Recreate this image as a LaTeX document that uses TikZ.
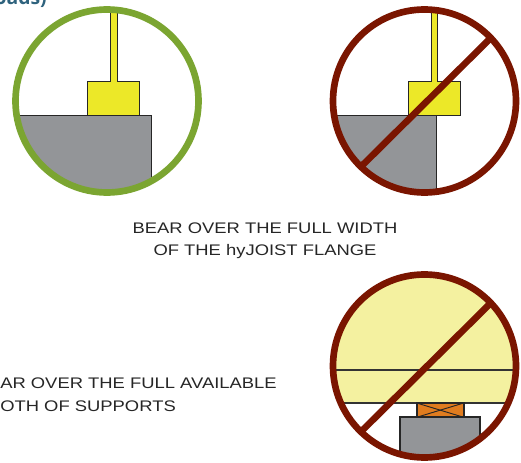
\documentclass[tikz,border=0pt]{standalone}
\usepackage{fontspec}
\usepackage{xcolor}
\usepackage{tikz}
\setmainfont[FakeStretch=1.2]{Liberation Sans}
\newfontfamily\headfont{Open Sans}
\definecolor{ringgreen}{RGB}{123,165,49}
\definecolor{ringred}{RGB}{122,21,0}
\definecolor{joistyellow}{RGB}{236,232,40}
\definecolor{timberpale}{RGB}{244,241,160}
\definecolor{wallgrey}{RGB}{147,149,152}
\definecolor{packerorange}{RGB}{224,124,31}
\definecolor{headteal}{RGB}{46,98,125}

\begin{document}
\begin{tikzpicture}[
  x=0.75pt, y=-0.75pt,
  ring/.style={line width=5pt},
  okring/.style={ring, draw=ringgreen},
  noring/.style={ring, draw=ringred},
  slash/.style={line width=5pt, draw=ringred},
  edge/.style={draw=black!85, line width=0.7pt},
  midedge/.style={draw=black!80, line width=1.1pt},
  thickedge/.style={draw=black!85, line width=1.7pt},
  note/.style={align=center, font=\fontsize{11.5}{16.8}\selectfont, text=black!85, inner sep=0pt}
]
\useasboundingbox (0,0) rectangle (521,463);
\fill[white] (0,0) rectangle (521,463);

%% ---- Good bearing (left) ----
\begin{scope}
  \clip (107,101) circle[radius=91.5];
  \fill[wallgrey] (0,115.3) rectangle (151,200);
  \draw[edge] (0,115.3) -- (151,115.3) -- (151,200);
  \draw[edge, fill=joistyellow] (110,0) -- (110,81.7) -- (87,81.7) -- (87,115.3)
    -- (139.3,115.3) -- (139.3,81.7) -- (117,81.7) -- (117,0) -- cycle;
\end{scope}
\draw[okring] (107,101) circle[radius=91.5];

%% ---- Bad bearing (right) ----
\begin{scope}
  \clip (424.5,101) circle[radius=91.5];
  \fill[wallgrey] (320,115) rectangle (436,200);
  \draw[edge] (320,115) -- (436,115) -- (436,200);
  \draw[edge, fill=joistyellow] (431,0) -- (431,81.3) -- (408,81.3) -- (408,115)
    -- (460.3,115) -- (460.3,81.3) -- (437.7,81.3) -- (437.7,0) -- cycle;
\end{scope}
\coordinate (slashA) at (490.7,38);
\coordinate (slashB) at (362.7,165);
\draw[slash] (slashA) -- (slashB);
\draw[noring] (424.5,101) circle[radius=91.5];

%% ---- Bad support (lower right) ----
\begin{scope}
  \clip (424.5,366) circle[radius=91.5];
  \fill[timberpale] (320,260) rectangle (530,403);
  \draw[midedge] (320,370) -- (530,370);
  \draw[midedge] (320,403) -- (530,403);
  \draw[thickedge, fill=packerorange] (416.7,403) rectangle (463.7,417.3);
  \draw[edge] (416.7,403) -- (463.7,417.3);
  \draw[edge] (416.7,417.3) -- (463.7,403);
  \draw[thickedge, fill=wallgrey] (400,470) -- (400,417.3) -- (480.3,417.3) -- (480.3,470);
\end{scope}
\coordinate (slashC) at (490.7,303);
\coordinate (slashD) at (362.7,430);
\draw[slash] (slashC) -- (slashD);
\draw[noring] (424.5,366) circle[radius=91.5];

%% ---- Labels ----
\node[note] (flangenote) at (265,241) {BEAR OVER THE FULL WIDTH\\OF THE hyJOIST FLANGE};
\node[note, anchor=west] (supportA) at (0,383) {AR OVER THE FULL AVAILABLE};
\node[note, anchor=west] (supportB) at (0,406) {OTH OF SUPPORTS};
\node[anchor=base east, inner sep=0pt, text=headteal, font=\headfont\bfseries\fontsize{14.5}{16}\selectfont] (headnote) at (47,4.5) {oads)};
\end{tikzpicture}
\end{document}
